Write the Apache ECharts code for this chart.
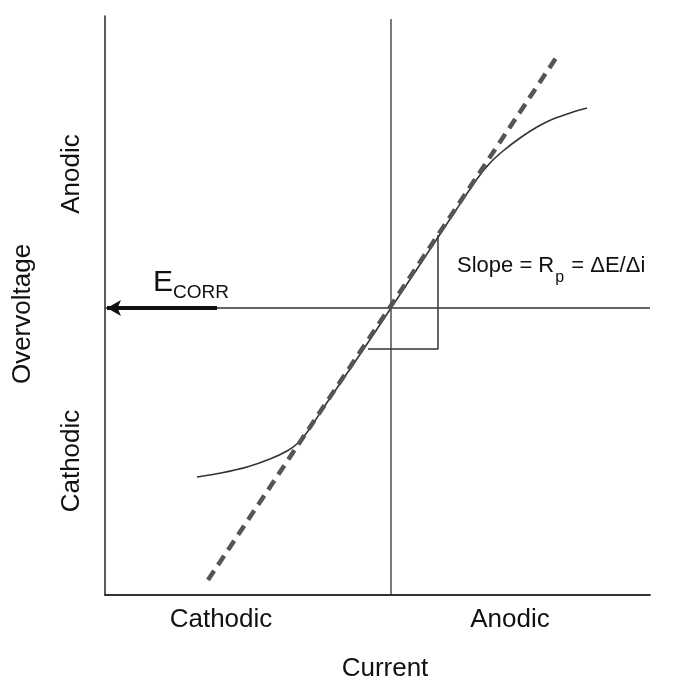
<!DOCTYPE html>
<html>
<head>
<meta charset="utf-8">
<script src="https://cdn.jsdelivr.net/npm/echarts@6/dist/echarts.min.js"></script>
<style>
  html, body { margin: 0; padding: 0; background: #fff; }
  #chart { width: 692px; height: 682px; }
</style>
</head>
<body>
<div id="chart"></div>
<script>
// Linear polarization sketch: overvoltage vs. current, arbitrary units, origin at E_corr.
const currentRange = [-28.6, 25.9];
const voltageRange = [-28.7, 29.2];

// Measured polarization curve (flattens at both ends)
const polarizationCurve = [
  [-19.4, -16.9], [-17.0, -16.5], [-14.4, -15.9], [-12.1, -15.1], [-10.4, -14.3],
  [-9.3, -13.5], [-8.3, -12.3], [-6.5, -9.6], [-3.0, -4.5], [0, 0], [3.0, 4.5],
  [6.5, 9.8], [8.6, 12.9], [9.9, 14.5], [11.2, 15.7], [12.9, 17.0], [14.6, 18.1],
  [16.2, 18.9], [18.2, 19.6], [19.6, 20.0]
];
// Linear fit through E_corr (slope = Rp)
const tangentLine = [[-18.3, -27.2], [16.7, 25.3]];
// Slope triangle ΔE / Δi
const slopeTriangle = [[-2.3, -4.1], [4.7, -4.1], [4.7, 7.3]];
// Zero-current line and E_corr line
const zeroCurrentLine = [[0, -28.7], [0, 28.9]];
const eCorrLine = [[-28.6, 0], [25.9, 0]];
const eCorrArrow = [[-17.4, 0], [-28.4, 0]];

const currentLabels = ['Cathodic', 'Anodic'];
const voltageLabels = ['Cathodic', 'Anodic'];

const FONT = '"Liberation Sans", Arial, sans-serif';
const INK = '#111';

const chart = echarts.init(document.getElementById('chart'), null, { renderer: 'canvas' });

const thinLine = (data, color, width) => ({
  type: 'line', data, symbol: 'none', silent: true,
  lineStyle: { color, width }, z: 2
});

chart.setOption({
  animation: false,
  backgroundColor: '#fff',
  grid: { left: 105, right: 42, top: 16, bottom: 87 },
  xAxis: {
    type: 'value', min: currentRange[0], max: currentRange[1],
    axisLine: { onZero: false, lineStyle: { color: '#333', width: 1.8 } },
    axisTick: { show: false }, axisLabel: { show: false }, splitLine: { show: false }
  },
  yAxis: {
    type: 'value', min: voltageRange[0], max: voltageRange[1],
    axisLine: { show: true, onZero: false, lineStyle: { color: '#333', width: 1.6 } },
    axisTick: { show: false }, axisLabel: { show: false }, splitLine: { show: false }
  },
  series: [
    thinLine(zeroCurrentLine, '#333', 1.3),
    thinLine(eCorrLine, '#333', 1.3),
    thinLine(slopeTriangle, '#333', 1.5),
    {
      type: 'line', data: polarizationCurve, symbol: 'none', smooth: 0.3, silent: true,
      lineStyle: { color: '#333', width: 1.6 }, z: 3
    },
    {
      type: 'line', data: tangentLine, symbol: 'none', silent: true,
      lineStyle: { color: '#555', width: 4.5, type: [11, 7.1] }, z: 4
    },
    {
      type: 'line', data: [], symbol: 'none', silent: true,
      markLine: {
        silent: true, symbol: ['none', 'arrow'], symbolSize: [12, 14],
        label: { show: false },
        lineStyle: { color: '#111', width: 4, type: 'solid' },
        data: [[{ coord: eCorrArrow[0] }, { coord: eCorrArrow[1] }]]
      }
    }
  ],
  graphic: [
    { type: 'text', x: 221, y: 620, style: { text: currentLabels[0], font: '26px ' + FONT, fill: INK, align: 'center', verticalAlign: 'middle' } },
    { type: 'text', x: 510, y: 620, style: { text: currentLabels[1], font: '26px ' + FONT, fill: INK, align: 'center', verticalAlign: 'middle' } },
    { type: 'text', x: 385, y: 669, style: { text: 'Current', font: '26px ' + FONT, fill: INK, align: 'center', verticalAlign: 'middle' } },
    { type: 'text', x: 72, y: 461, rotation: Math.PI / 2, style: { text: voltageLabels[0], font: '26px ' + FONT, fill: INK, align: 'center', verticalAlign: 'middle' } },
    { type: 'text', x: 72, y: 174, rotation: Math.PI / 2, style: { text: voltageLabels[1], font: '26px ' + FONT, fill: INK, align: 'center', verticalAlign: 'middle' } },
    { type: 'text', x: 23, y: 314, rotation: Math.PI / 2, style: { text: 'Overvoltage', font: '26px ' + FONT, fill: INK, align: 'center', verticalAlign: 'middle' } },
    {
      type: 'text', x: 153, y: 268,
      style: {
        text: '{e|E}{c|CORR}', fill: INK, align: 'left', verticalAlign: 'top',
        rich: {
          e: { font: '30px ' + FONT, lineHeight: 32, verticalAlign: 'top', fill: INK },
          c: { font: '19px ' + FONT, lineHeight: 20, verticalAlign: 'bottom', fill: INK, padding: [0, 0, -2, 0] }
        }
      }
    },
    {
      type: 'text', x: 457, y: 255,
      style: {
        text: '{a|Slope = R}{s|p}{a| = ΔE/Δi}', fill: INK, align: 'left', verticalAlign: 'top',
        rich: {
          a: { font: '22px ' + FONT, lineHeight: 26, verticalAlign: 'top', fill: INK },
          s: { font: '16px ' + FONT, lineHeight: 18, verticalAlign: 'bottom', fill: INK, padding: [0, 1, -5, 1] }
        }
      }
    }
  ]
});
</script>
</body>
</html>
